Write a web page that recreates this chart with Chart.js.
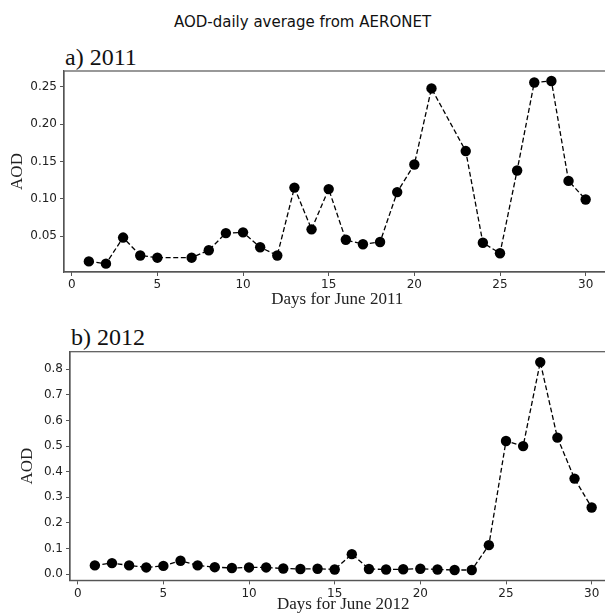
<!DOCTYPE html>
<html>
<head>
<meta charset="utf-8">
<script src="https://cdn.jsdelivr.net/npm/chart.js@4"></script>
<style>
  html, body { margin: 0; padding: 0; background: #fff; overflow: hidden; }
  body { width: 605px; height: 615px; position: relative; }
  .box { position: absolute; left: 0; }
  .suptitle {
    position: absolute; left: 0; width: 605px; top: 13px; text-align: center;
    font: 15px "DejaVu Sans", sans-serif; color: #111;
  }
  .panel-title {
    position: absolute; font: 24px "Liberation Serif", "Times New Roman", serif; color: #111;
  }
</style>
</head>
<body>
<div class="suptitle">AOD-daily average from AERONET</div>
<div class="panel-title" style="left:65px; top:44px;">a) 2011</div>
<div class="panel-title" style="left:71px; top:324px;">b) 2012</div>
<div class="box" style="top:60px; width:620px; height:250px;"><canvas id="chart2011"></canvas></div>
<div class="box" style="top:320px; width:630px; height:295px;"><canvas id="chart2012"></canvas></div>
<script>
// June 2011 (days 6 and 22 have no data)
const days2011 = [1, 2, 3, 4, 5, 7, 8, 9, 10, 11, 12, 13, 14, 15, 16, 17, 18, 19, 20, 21, 23, 24, 25, 26, 27, 28, 29, 30];
const aod2011 = [0.016, 0.013, 0.048, 0.024, 0.021, 0.021, 0.031, 0.054, 0.055, 0.035, 0.024, 0.115, 0.059, 0.113,
  0.045, 0.039, 0.042, 0.109, 0.146, 0.248, 0.164, 0.041, 0.027, 0.138, 0.256, 0.258, 0.124, 0.099];

// June 2012
const days2012 = [1, 2, 3, 4, 5, 6, 7, 8, 9, 10, 11, 12, 13, 14, 15, 16, 17, 18, 19, 20, 21, 22, 23, 24, 25, 26, 27, 28, 29, 30];
const aod2012 = [0.034, 0.043, 0.034, 0.026, 0.032, 0.052, 0.034, 0.027, 0.024, 0.026, 0.026, 0.022, 0.020, 0.021, 0.018,
  0.078, 0.020, 0.018, 0.019, 0.021, 0.018, 0.016, 0.016, 0.113, 0.520, 0.500, 0.828, 0.533, 0.373, 0.260];

const dayTicks = [0, 5, 10, 15, 20, 25, 30];
const yTicks2011 = [0.05, 0.10, 0.15, 0.20, 0.25];
const yTicks2012 = [0.0, 0.1, 0.2, 0.3, 0.4, 0.5, 0.6, 0.7, 0.8];

const spineColor = '#555';
const tickFont = { family: 'DejaVu Sans', size: 12 };
const labelFont = { family: 'Liberation Serif', size: 17 };

// outline the whole plot area, like matplotlib spines
const framePlugin = {
  id: 'frame',
  afterDraw(chart) {
    const { ctx, chartArea: a } = chart;
    ctx.save();
    ctx.strokeStyle = spineColor;
    ctx.lineWidth = 1.2;
    ctx.strokeRect(a.left, a.top, a.right - a.left, a.bottom - a.top);
    ctx.restore();
  }
};

function makeChart(id, days, values, opts) {
  const points = days.map((d, i) => ({ x: d, y: values[i] }));
  return new Chart(document.getElementById(id), {
    type: 'line',
    data: {
      datasets: [{
        data: points,
        borderColor: '#000',
        borderWidth: 1.3,
        borderDash: [5, 2.6],
        pointRadius: 5.2,
        pointBackgroundColor: '#000',
        pointBorderWidth: 0,
        tension: 0,
        clip: false
      }]
    },
    options: {
      responsive: true,
      maintainAspectRatio: false,
      animation: false,
      layout: { padding: opts.padding },
      plugins: { legend: { display: false }, tooltip: { enabled: false } },
      scales: {
        x: {
          type: 'linear',
          min: -0.45,
          max: 31.45,
          afterBuildTicks: s => { s.ticks = dayTicks.map(v => ({ value: v })); },
          afterFit: s => { s.height = opts.xAxisHeight; },
          grid: { drawOnChartArea: false, drawTicks: true, tickLength: 4, color: spineColor },
          border: { color: spineColor, width: 1.2 },
          ticks: { font: tickFont, color: '#222', padding: 2, maxRotation: 0, autoSkip: false },
          title: { display: true, text: opts.xTitle, font: labelFont, color: '#222', padding: { top: 0, bottom: 0 } }
        },
        y: {
          min: opts.yMin,
          max: opts.yMax,
          afterBuildTicks: s => { s.ticks = opts.yTicks.map(v => ({ value: v })); },
          afterFit: s => { s.width = opts.yAxisWidth; },
          grid: { drawOnChartArea: false, drawTicks: true, tickLength: 4, color: spineColor },
          border: { color: spineColor, width: 1.2 },
          ticks: { font: tickFont, color: '#222', padding: 3, autoSkip: false, callback: v => v.toFixed(opts.digits) },
          title: { display: true, text: 'AOD', font: labelFont, color: '#222', padding: { top: opts.yTitlePad, bottom: 0 } }
        }
      }
    },
    plugins: [framePlugin]
  });
}

makeChart('chart2011', days2011, aod2011, {
  padding: { top: 11, left: 0, right: 9.5, bottom: 0 },
  xAxisHeight: 38,
  yAxisWidth: 64,
  yMin: 0.0018,
  yMax: 0.2714,
  yTicks: yTicks2011,
  digits: 2,
  xTitle: 'Days for June 2011',
  yTitlePad: 7
});

makeChart('chart2012', days2012, aod2012, {
  padding: { top: 31.7, left: 0, right: 13.5, bottom: 0 },
  xAxisHeight: 34.6,
  yAxisWidth: 70,
  yMin: -0.0246,
  yMax: 0.8686,
  yTicks: yTicks2012,
  digits: 1,
  xTitle: 'Days for June 2012',
  yTitlePad: 17
});
</script>
</body>
</html>
